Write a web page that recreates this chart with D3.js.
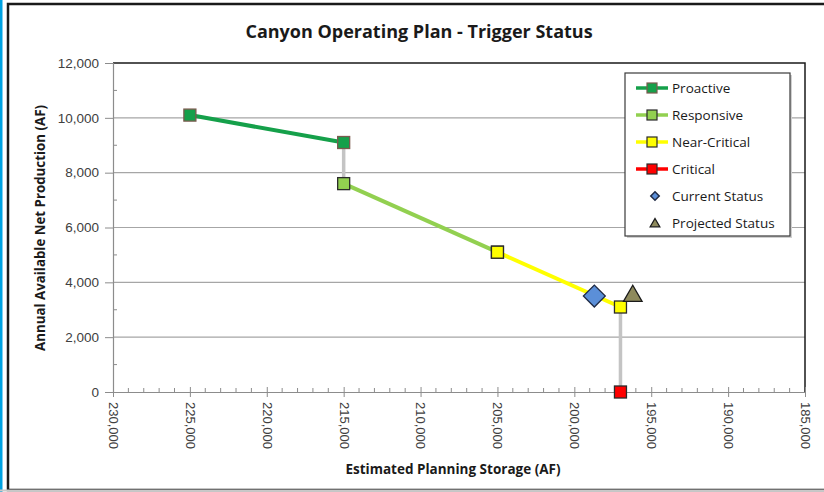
<!DOCTYPE html>
<html>
<head>
<meta charset="utf-8">
<script src="https://cdn.jsdelivr.net/npm/d3@7"></script>
<style>
  body { margin: 0; background: #fff; }
  svg { display: block; font-family: "Open Sans", "Noto Sans", sans-serif; }
</style>
</head>
<body>
<svg id="chart" width="824" height="492"></svg>
<script>
// series (storage AF, production AF)
const seriesNames = ['Proactive', 'Responsive', 'Near-Critical', 'Critical']
const proactiveX = [225000, 215000]
const proactiveY = [10100, 9100]
const responsiveX = [215000, 205000]
const responsiveY = [7600, 5100]
const nearCriticalX = [205000, 197000]
const nearCriticalY = [5100, 3100]
const criticalX = [197000]
const criticalY = [0]
const currentStatus = [198700, 3500]
const projectedStatus = [196200, 3500]

const xTicks = [230000, 225000, 220000, 215000, 210000, 205000, 200000, 195000, 190000, 185000]
const yTicks = [0, 2000, 4000, 6000, 8000, 10000, 12000]

const colors = {
    'Proactive': '#15a04a',
    'Responsive': '#92d050',
    'Near-Critical': '#ffff00',
    'Critical': '#ff0000'
}

const margin = { left: 113, right: 805, top: 63, bottom: 392 }

const svg = d3.select('#chart')

// frame
svg.append('rect').attr('x', 0).attr('y', 0).attr('width', 2.5).attr('height', 492).attr('fill', '#00a2e2')
svg.append('rect').attr('x', 8).attr('y', 4).attr('width', 840).attr('height', 486)
    .attr('fill', 'none').attr('stroke', '#1a1a1a').attr('stroke-width', 2.5)
svg.append('line').attr('x1', 0).attr('x2', 824).attr('y1', 490.5).attr('y2', 490.5)
    .attr('stroke', '#c8c8c8').attr('stroke-width', 2)

const x = d3.scaleLinear().domain([230000, 185000]).range([margin.left, margin.right])
const y = d3.scaleLinear().domain([0, 12000]).range([margin.bottom, margin.top])
const fmt = d3.format(',')

// gridlines
svg.append('g').selectAll('line')
    .data(yTicks.filter(d => d > 0 && d < 12000))
    .enter().append('line')
    .attr('x1', margin.left).attr('x2', margin.right)
    .attr('y1', d => y(d)).attr('y2', d => y(d))
    .attr('stroke', '#a6a6a6').attr('stroke-width', 1.2)

// plot border top & right
svg.append('path')
    .attr('d', `M${margin.left},${margin.top}H${margin.right}V${margin.bottom}`)
    .attr('fill', 'none').attr('stroke', '#1a1a1a').attr('stroke-width', 1.5)

// y axis
const yAxis = svg.append('g')
    .attr('transform', `translate(${margin.left},0)`)
    .call(d3.axisLeft(y).tickValues(yTicks).tickFormat(fmt).tickSize(8).tickPadding(6))
yAxis.select('.domain').attr('stroke', '#8c8c8c').attr('stroke-width', 1.2)
yAxis.selectAll('.tick line').attr('stroke', '#8c8c8c')
yAxis.selectAll('text').attr('font-size', 13.5).attr('fill', '#404040')
svg.append('g').selectAll('line')
    .data(d3.range(1000, 12000, 2000))
    .enter().append('line')
    .attr('x1', margin.left).attr('x2', margin.left + 4)
    .attr('y1', d => y(d)).attr('y2', d => y(d))
    .attr('stroke', '#8c8c8c')

// x axis
const xAxis = svg.append('g')
    .attr('transform', `translate(0,${margin.bottom})`)
    .call(d3.axisBottom(x).tickValues(xTicks).tickFormat(fmt).tickSizeInner(5).tickSizeOuter(0).tickPadding(6))
xAxis.select('.domain').attr('stroke', '#8c8c8c').attr('stroke-width', 1.2)
xAxis.selectAll('.tick line').attr('stroke', '#8c8c8c').attr('y1', -5)
xAxis.selectAll('text')
    .attr('font-size', 13).attr('fill', '#404040')
    .attr('text-anchor', 'start')
    .attr('transform', 'rotate(90)')
    .attr('x', 10).attr('y', 0).attr('dy', '0.35em')
svg.append('g').selectAll('line')
    .data(d3.range(229000, 185000, -1000).filter(d => d % 5000 !== 0))
    .enter().append('line')
    .attr('x1', d => x(d)).attr('x2', d => x(d))
    .attr('y1', margin.bottom).attr('y2', margin.bottom - 4)
    .attr('stroke', '#8c8c8c')

// titles
svg.append('text').attr('x', 419).attr('y', 38).attr('text-anchor', 'middle')
    .attr('font-size', 18).attr('font-weight', 'bold').attr('fill', '#1a1a1a')
    .text('Canyon Operating Plan - Trigger Status')
svg.append('text').attr('transform', `translate(45,228) rotate(-90)`).attr('text-anchor', 'middle')
    .attr('font-size', 13.3).attr('font-weight', 'bold').attr('fill', '#1a1a1a')
    .text('Annual Available Net Production (AF)')
svg.append('text').attr('x', 453).attr('y', 474).attr('text-anchor', 'middle')
    .attr('font-size', 13.5).attr('font-weight', 'bold').attr('fill', '#1a1a1a')
    .text('Estimated Planning Storage (AF)')

// series data
const series = [
    { name: 'Proactive', xs: proactiveX, ys: proactiveY },
    { name: 'Responsive', xs: responsiveX, ys: responsiveY },
    { name: 'Near-Critical', xs: nearCriticalX, ys: nearCriticalY },
    { name: 'Critical', xs: criticalX, ys: criticalY }
].map(s => ({ name: s.name, points: s.xs.map((v, i) => [v, s.ys[i]]) }))

// gray connectors between trigger stages
const connectors = []
for (let i = 0; i < series.length - 1; i++) {
    const a = series[i].points[series[i].points.length - 1]
    const b = series[i + 1].points[0]
    if (a[0] === b[0] && a[1] !== b[1]) connectors.push([a, b])
}
const line = d3.line().x(d => x(d[0])).y(d => y(d[1]))

svg.append('g').selectAll('path')
    .data(connectors)
    .enter().append('path')
    .attr('d', line)
    .attr('stroke', '#c4c4c4').attr('stroke-width', 3.5).attr('fill', 'none')

svg.append('g').selectAll('path')
    .data(series.filter(s => s.points.length > 1))
    .enter().append('path')
    .attr('d', d => line(d.points))
    .attr('stroke', d => colors[d.name]).attr('stroke-width', 4).attr('fill', 'none')

const markers = svg.append('g')
series.forEach(s => {
    markers.selectAll(null)
        .data(s.points)
        .enter().append('rect')
        .attr('x', d => x(d[0]) - 6).attr('y', d => y(d[1]) - 6)
        .attr('width', 12).attr('height', 12)
        .attr('fill', colors[s.name])
        .attr('stroke', s.name === 'Proactive' ? '#7a5a4e' : '#2a2a2a')
        .attr('stroke-width', 1.3)
})

// status points
svg.append('path')
    .attr('d', d3.symbol(d3.symbolSquare, 240)())
    .attr('transform', `translate(${x(currentStatus[0])},${y(currentStatus[1])}) rotate(45)`)
    .attr('fill', '#5b8fd8').attr('stroke', '#1f2a44').attr('stroke-width', 1.3)
svg.append('path')
    .attr('d', d3.symbol(d3.symbolTriangle, 150)())
    .attr('transform', `translate(${x(projectedStatus[0])},${y(projectedStatus[1])})`)
    .attr('fill', '#8e8a5c').attr('stroke', '#1a1a1a').attr('stroke-width', 1.3)

// legend
const legend = svg.append('g').attr('transform', 'translate(625,73)')
legend.append('rect').attr('x', 2).attr('y', 2).attr('width', 165).attr('height', 163).attr('fill', '#d0d0d0')
legend.append('rect').attr('width', 165).attr('height', 163).attr('fill', '#fff')
    .attr('stroke', '#3a3a3a').attr('stroke-width', 1.2)

const items = seriesNames.map(n => ({ name: n, kind: 'line' }))
    .concat([{ name: 'Current Status', kind: 'diamond' }, { name: 'Projected Status', kind: 'triangle' }])
const item = legend.selectAll('g.item')
    .data(items)
    .enter().append('g')
    .attr('class', 'item')
    .attr('transform', (d, i) => `translate(0,${15 + i * 27})`)

item.filter(d => d.kind === 'line').append('line')
    .attr('x1', 11).attr('x2', 43).attr('y1', 0).attr('y2', 0)
    .attr('stroke', d => colors[d.name]).attr('stroke-width', 3.5)
item.filter(d => d.kind === 'line').append('rect')
    .attr('x', 22).attr('y', -5).attr('width', 10).attr('height', 10)
    .attr('fill', d => colors[d.name])
    .attr('stroke', d => d.name === 'Proactive' ? '#7a5a4e' : '#2a2a2a').attr('stroke-width', 1.2)
item.filter(d => d.kind === 'diamond').append('path')
    .attr('d', d3.symbol(d3.symbolSquare, 36)())
    .attr('transform', 'translate(30,0) rotate(45)')
    .attr('fill', '#5b8fd8').attr('stroke', '#1f2a44').attr('stroke-width', 1.5)
item.filter(d => d.kind === 'triangle').append('path')
    .attr('d', d3.symbol(d3.symbolTriangle, 40)())
    .attr('transform', 'translate(30,1)')
    .attr('fill', '#8e8a5c').attr('stroke', '#1a1a1a').attr('stroke-width', 1.3)
item.append('text')
    .attr('x', 47).attr('y', 0).attr('dy', '0.35em')
    .attr('font-size', 13.5).attr('fill', '#1a1a1a')
    .text(d => d.name)
</script>
</body>
</html>
